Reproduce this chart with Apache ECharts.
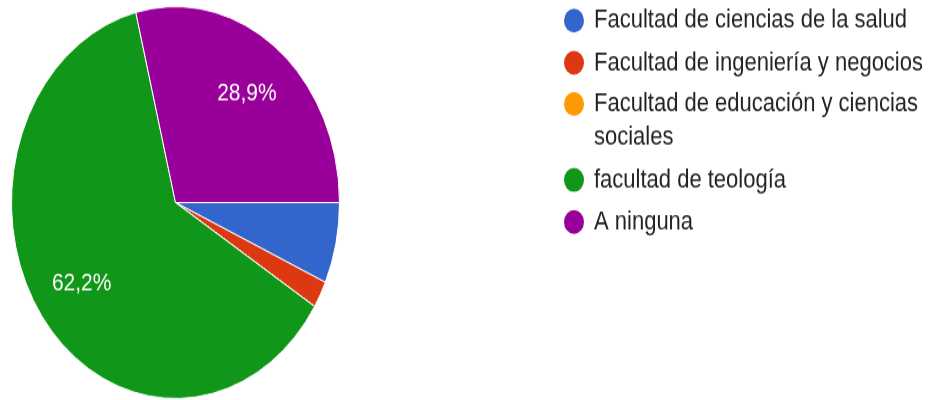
<!DOCTYPE html>
<html>
<head>
<meta charset="utf-8">
<title>Facultades</title>
<script src="https://cdn.jsdelivr.net/npm/echarts@6/dist/echarts.min.js"></script>
<style>
    html, body { margin: 0; padding: 0; background: #ffffff; width: 928px; height: 400px; }
    /* the reference picture is stretched vertically, so the chart is too */
    #main { width: 928px; height: 335px; transform: scaleY(1.195); transform-origin: 0 0; }
</style>
</head>
<body>
<div id="main"></div>
<script>
var facultades = [
    'Facultad de ciencias de la salud',
    'Facultad de ingeniería y negocios',
    'Facultad de educación y ciencias sociales',
    'facultad de teología',
    'A ninguna'
];
var respuestas = [3, 1, 0, 28, 13];
var colores = ['#3366cc', '#dc3912', '#ff9900', '#109618', '#990099'];

var datos = facultades.map(function (nombre, i) {
    return { name: nombre, value: respuestas[i] };
});

var centro = [175.5, 169.5];
var lineaAlto = 28.4;

// long names wrap onto a second line; the empty first line keeps the
// icon level with the first line of text
function cortarNombre(nombre) {
    if (nombre.length <= 34) return nombre;
    var corte = nombre.lastIndexOf(' ', 33);
    return '\n' + nombre.slice(0, corte) + '\n' + nombre.slice(corte + 1);
}

var legendBase = {
    orient: 'vertical',
    left: 564,
    padding: 0,
    itemWidth: 30,
    itemHeight: 20,
    itemGap: 6.8,
    icon: 'circle',
    itemStyle: { borderWidth: 0 },
    formatter: cortarNombre,
    textStyle: {
        fontFamily: 'Arial',
        fontSize: 22,
        color: '#222222',
        lineHeight: lineaAlto
    }
};

var option = {
    animation: false,
    color: colores,
    tooltip: { trigger: 'item' },
    legend: [
        Object.assign({}, legendBase, {
            top: 3.1,
            data: [facultades[0], facultades[1]]
        }),
        Object.assign({}, legendBase, {
            top: 44.4,
            data: [facultades[2], facultades[3], facultades[4]]
        })
    ],
    series: [
        {
            name: 'Facultad',
            type: 'pie',
            center: centro,
            radius: 164,
            startAngle: 0,
            clockwise: true,
            data: datos,
            label: { show: false },
            labelLine: { show: false },
            itemStyle: { borderColor: '#ffffff', borderWidth: 1 },
            emphasis: { scale: false }
        },
        {
            // only carries the percentage labels a bit further out
            name: 'etiquetas',
            type: 'pie',
            center: centro,
            radius: [62, 164],
            startAngle: 0,
            clockwise: true,
            silent: true,
            percentPrecision: 1,
            data: datos,
            itemStyle: { color: 'rgba(0,0,0,0)' },
            label: {
                show: true,
                position: 'inside',
                color: '#ffffff',
                fontFamily: 'Arial',
                fontSize: 21,
                formatter: function (p) {
                    if (p.percent < 10) return '';
                    return p.percent.toFixed(1).replace('.', ',') + '%';
                }
            },
            labelLine: { show: false },
            emphasis: { disabled: true },
            tooltip: { show: false }
        }
    ]
};

var chart = echarts.init(document.getElementById('main'));
chart.setOption(option);
</script>
</body>
</html>
